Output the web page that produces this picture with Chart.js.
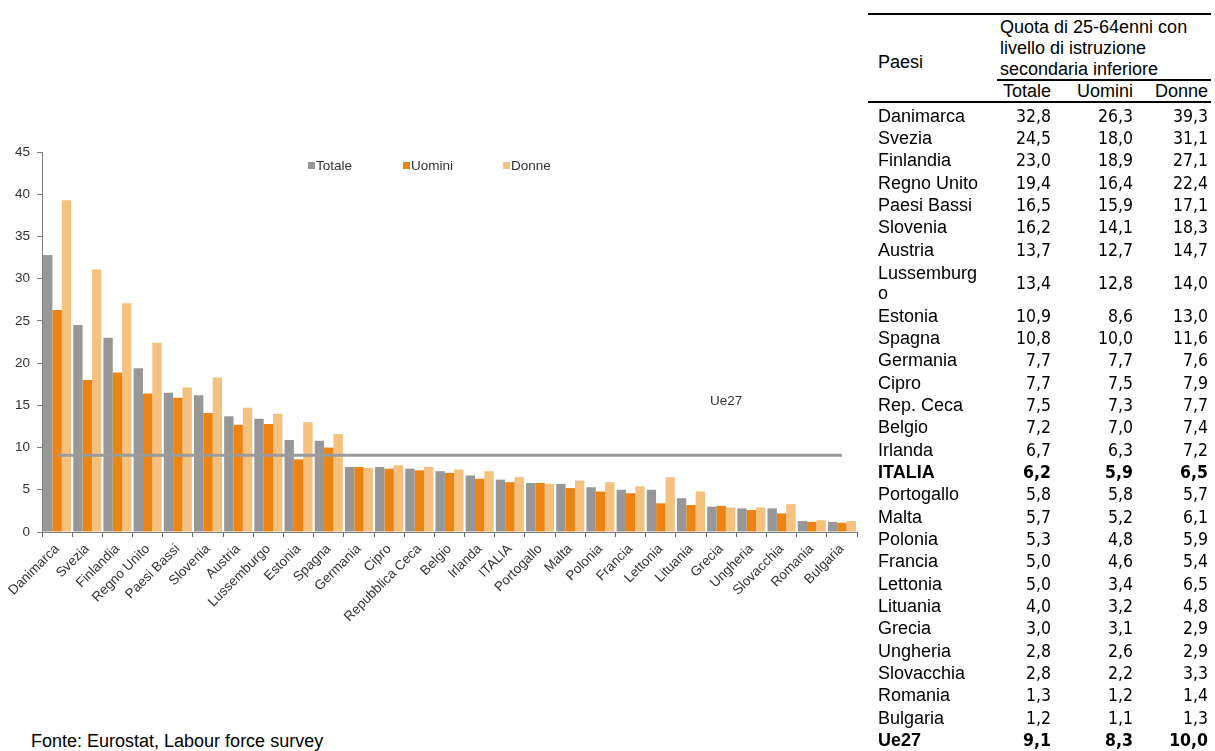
<!DOCTYPE html>
<html>
<head>
<meta charset="utf-8">
<script src="https://cdn.jsdelivr.net/npm/chart.js@4/dist/chart.umd.min.js"></script>
<style>
  html, body { margin:0; padding:0; background:#fff; width:1215px; height:751px; overflow:hidden;
    font-family:"Liberation Sans", Arial, sans-serif; }
  #chart { position:absolute; left:0; top:0; }
  .abs { position:absolute; white-space:nowrap; }
  .leg { font-size:13.5px; color:#333; line-height:15px; }
  .sq { position:absolute; width:7px; height:7px; }
  .tl { position:absolute; background:#000; }
  .lab { font-size:18px; color:#000; }
  .val { font-family:"DejaVu Sans Condensed","DejaVu Sans",sans-serif; font-stretch:condensed; font-size:17.5px; color:#000; text-align:right; }
  .b { font-weight:bold; }
</style>
</head>
<body>
<canvas id="chart" width="870" height="650"></canvas>
<div id="overlay"></div>
<script>
// ---- data ----
const categories = ['Danimarca','Svezia','Finlandia','Regno Unito','Paesi Bassi','Slovenia','Austria','Lussemburgo','Estonia','Spagna','Germania','Cipro','Repubblica Ceca','Belgio','Irlanda','ITALIA','Portogallo','Malta','Polonia','Francia','Lettonia','Lituania','Grecia','Ungheria','Slovacchia','Romania','Bulgaria'];
const tableLabels = ['Danimarca','Svezia','Finlandia','Regno Unito','Paesi Bassi','Slovenia','Austria','Lussemburg\no','Estonia','Spagna','Germania','Cipro','Rep. Ceca','Belgio','Irlanda','ITALIA','Portogallo','Malta','Polonia','Francia','Lettonia','Lituania','Grecia','Ungheria','Slovacchia','Romania','Bulgaria'];
const totale = [32.8,24.5,23.0,19.4,16.5,16.2,13.7,13.4,10.9,10.8,7.7,7.7,7.5,7.2,6.7,6.2,5.8,5.7,5.3,5.0,5.0,4.0,3.0,2.8,2.8,1.3,1.2];
const uomini = [26.3,18.0,18.9,16.4,15.9,14.1,12.7,12.8,8.6,10.0,7.7,7.5,7.3,7.0,6.3,5.9,5.8,5.2,4.8,4.6,3.4,3.2,3.1,2.6,2.2,1.2,1.1];
const donne  = [39.3,31.1,27.1,22.4,17.1,18.3,14.7,14.0,13.0,11.6,7.6,7.9,7.7,7.4,7.2,6.5,5.7,6.1,5.9,5.4,6.5,4.8,2.9,2.9,3.3,1.4,1.3];
const ue27Label = 'Ue27';
const ue27Values = [9.1, 8.3, 10.0];
const seriesNames = ['Totale','Uomini','Donne'];
const yTicks = [0,5,10,15,20,25,30,35,40,45];
const headerText = ['Paesi','Quota di 25-64enni con','livello di istruzione','secondaria inferiore'];
const sourceText = 'Fonte: Eurostat, Labour force survey';
const boldRows = ['ITALIA','Ue27'];

// ---- styles ----
const colors = ['#979797','#ED8311','#F5C17F'];
const FONT = '"Liberation Sans", Arial, sans-serif';

const seriesData = [totale, uomini, donne];
const chart = new Chart(document.getElementById('chart'), {
  type: 'bar',
  data: {
    labels: categories,
    datasets: seriesNames.map((n, i) => ({
      label: n, data: seriesData[i], backgroundColor: colors[i],
      categoryPercentage: 0.93, barPercentage: 1, order: 1
    })).concat([{
      type: 'line', label: ue27Label,
      data: [{x: categories[0], y: ue27Values[0]}, {x: categories[categories.length-1], y: ue27Values[0]}],
      borderColor: '#9B9B9B', borderWidth: 3, pointRadius: 0, order: 0, fill: false
    }])
  },
  options: {
    responsive: false, animation: false, devicePixelRatio: 1,
    layout: { padding: { top: 152, right: 13, bottom: 0, left: 0 } },
    plugins: { legend: { display: false }, tooltip: { enabled: false } },
    scales: {
      x: {
        offset: true,
        grid: { display: true, drawOnChartArea: false, drawTicks: true, tickLength: 5, color: '#666', offset: true },
        border: { display: true, color: '#808080', width: 1 },
        ticks: { autoSkip: false, maxRotation: 45, minRotation: 45, color: '#333', padding: 4,
                 font: { family: FONT, size: 13.5 } },
        afterFit: s => { s.height = 118; }
      },
      y: {
        min: yTicks[0], max: yTicks[yTicks.length-1],
        afterBuildTicks: s => { s.ticks = yTicks.map(v => ({value: v})); },
        grid: { display: true, drawOnChartArea: false, drawTicks: true, tickLength: 5, color: '#808080' },
        border: { display: true, color: '#808080', width: 1 },
        ticks: { color: '#333', padding: 7, font: { family: FONT, size: 13.5 } },
        afterFit: s => { s.width = 42; }
      }
    }
  }
});

// ---- overlay texts: legend, Ue27 label, source, table ----
const ov = document.getElementById('overlay');
function add(cls, html, css) {
  const d = document.createElement('div');
  d.className = cls; d.innerHTML = html;
  Object.assign(d.style, css);
  ov.appendChild(d); return d;
}
// legend
const legX = [308, 403, 503];
seriesNames.forEach((n, i) => {
  add('sq', '', { left: legX[i] + 'px', top: '162px', background: colors[i] });
  add('abs leg', n, { left: (legX[i] + 8) + 'px', top: '158px' });
});
// Ue27 label near the line
add('abs leg', ue27Label, { left: '710px', top: '393px' });
// source
add('abs', sourceText, { left: '31px', top: '731px', fontSize: '18px', lineHeight: '20px', color: '#000' });

// table
const tL = 868, tR = 1211;
const colRight = [1051, 1133, 1208];
add('tl', '', { left: tL + 'px', top: '12.5px', width: (tR - tL) + 'px', height: '2px' });
add('abs lab', headerText[0], { left: '878px', top: '52px', lineHeight: '20px' });
add('abs lab', headerText.slice(1).join('<br>'), { left: '1000px', top: '16.5px', lineHeight: '21px' });
add('tl', '', { left: '997px', top: '79px', width: (tR - 997) + 'px', height: '2px' });
seriesNames.forEach((n, i) => {
  add('abs lab', n, { right: (1215 - colRight[i]) + 'px', top: '81px', lineHeight: '20px' });
});
add('tl', '', { left: tL + 'px', top: '100.5px', width: (tR - tL) + 'px', height: '2px' });

const rows = tableLabels.map((l, i) => [l, totale[i], uomini[i], donne[i]]);
rows.push([ue27Label].concat(ue27Values));
const rowH = 22.33;
let y = 104.8;
rows.forEach(r => {
  const twoLine = r[0].indexOf('\n') >= 0;
  const h = twoLine ? 43.7 : rowH;
  const bold = boldRows.indexOf(r[0]) >= 0 ? ' b' : '';
  if (twoLine) {
    add('abs lab' + bold, r[0].replace('\n', '<br>'), { left: '878px', top: (y + 1.5) + 'px', lineHeight: '20px' });
  } else {
    add('abs lab' + bold, r[0], { left: '878px', top: y + 'px', lineHeight: rowH + 'px' });
  }
  for (let k = 0; k < 3; k++) {
    add('abs val' + bold, r[k+1].toFixed(1).replace('.', ','), {
      right: (1215 - colRight[k]) + 'px', top: (y + (h - rowH) / 2) + 'px', lineHeight: rowH + 'px'
    });
  }
  y += h;
});
</script>
</body>
</html>
